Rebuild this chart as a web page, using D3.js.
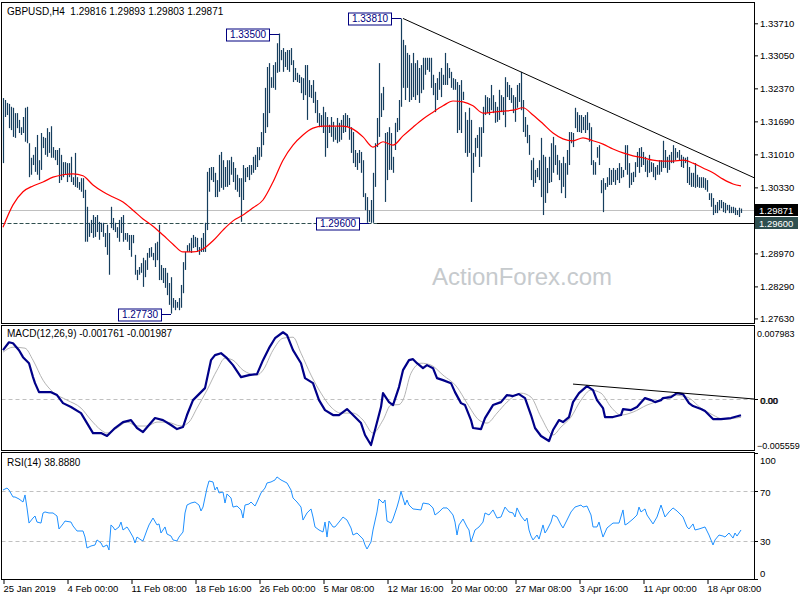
<!DOCTYPE html>
<html><head><meta charset="utf-8">
<script src="https://cdn.jsdelivr.net/npm/d3@7"></script>
<style>
html,body{margin:0;padding:0;background:#fff;}
svg{display:block;font-family:"Liberation Sans",Arial,sans-serif;}
</style></head><body>
<svg id="c" width="800" height="600"></svg>
<script>
// ---------------- DATA ----------------
const symbolTitle = "GBPUSD,H4  1.29816 1.29893 1.29803 1.29871";
const macdTitle = "MACD(12,26,9) -0.001761 -0.001987";
const rsiTitle = "RSI(14) 38.8880";
const watermark = "ActionForex.com";

const highs = [
1.3217,1.3213,1.3207,1.3205,1.3199,1.3197,1.3186,1.3186,1.3172,1.3157,
1.3178,1.3197,1.3199,1.3124,1.3094,1.3100,1.3116,1.3141,1.3089,1.3145,
1.3137,1.3135,1.3155,1.3147,1.3159,1.3116,1.3110,1.3110,1.3114,1.3100,
1.3085,1.3085,1.3083,1.3083,1.3096,1.3054,1.3104,1.3054,1.3044,1.3052,
1.3052,1.3028,1.2993,1.2960,1.2966,1.2976,1.2972,1.2976,1.2962,1.2960,
1.2960,1.2939,1.2956,1.2939,1.2993,1.2970,1.2960,1.2951,1.2966,1.2972,
1.2976,1.2939,1.2939,1.2935,1.2935,1.2935,1.2894,1.2863,1.2869,1.2877,
1.2888,1.2883,1.2898,1.2908,1.2910,1.2898,1.2918,1.2921,1.2956,1.2873,
1.2867,1.2867,1.2857,1.2836,1.2848,1.2805,1.2801,1.2797,1.2805,1.2832,
1.2879,1.2900,1.2914,1.2918,1.2929,1.2935,1.2931,1.2929,1.2910,1.2929,
1.2939,1.2960,1.3065,1.3073,1.3075,1.3075,1.3063,1.3048,1.3100,1.3106,
1.3089,1.3075,1.3089,1.3089,1.3096,1.3085,1.3073,1.3059,1.3052,1.3052,
1.3079,1.3073,1.3075,1.3079,1.3079,1.3096,1.3100,1.3116,1.3116,1.3147,
1.3186,1.3238,1.3281,1.3289,1.3260,1.3285,1.3291,1.3330,1.3350,1.3316,
1.3320,1.3312,1.3316,1.3316,1.3320,1.3295,1.3279,1.3269,1.3265,1.3260,
1.3258,1.3285,1.3285,1.3254,1.3244,1.3254,1.3230,1.3213,1.3186,1.3182,
1.3199,1.3188,1.3178,1.3162,1.3178,1.3168,1.3157,1.3176,1.3166,1.3172,
1.3182,1.3186,1.3182,1.3176,1.3157,1.3147,1.3110,1.3104,1.3110,1.3106,
1.3089,1.3021,1.3013,1.2986,1.3007,1.3063,1.3124,1.3176,1.3289,1.3227,
1.3240,1.3145,1.3147,1.3157,1.3145,1.3096,1.3166,1.3176,1.3213,1.3381,
1.3337,1.3326,1.3310,1.3306,1.3289,1.3310,1.3289,1.3295,1.3279,1.3285,
1.3300,1.3300,1.3300,1.3300,1.3300,1.3265,1.3248,1.3258,1.3271,1.3279,
1.3265,1.3310,1.3289,1.3279,1.3271,1.3258,1.3256,1.3250,1.3244,1.3254,
1.3230,1.3188,1.3172,1.3197,1.3172,1.3104,1.3135,1.3141,1.3157,1.3157,
1.3199,1.3223,1.3219,1.3217,1.3244,1.3223,1.3209,1.3199,1.3234,1.3223,
1.3219,1.3260,1.3250,1.3244,1.3238,1.3223,1.3219,1.3244,1.3248,1.3271,
1.3213,1.3178,1.3162,1.3141,1.3089,1.3094,1.3069,1.3073,1.3089,1.3135,
1.3100,1.3096,1.3073,1.3096,1.3124,1.3137,1.3120,1.3100,1.3089,1.3083,
1.3096,1.3083,1.3110,1.3147,1.3147,1.3145,1.3197,1.3188,1.3182,1.3182,
1.3178,1.3182,1.3188,1.3166,1.3157,1.3089,1.3085,1.3116,1.3120,1.3048,
1.3052,1.3042,1.3054,1.3073,1.3069,1.3073,1.3069,1.3073,1.3083,1.3075,
1.3069,1.3120,1.3120,1.3083,1.3063,1.3065,1.3085,1.3106,1.3114,1.3116,
1.3106,1.3096,1.3089,1.3100,1.3085,1.3083,1.3075,1.3079,1.3089,1.3089,
1.3129,1.3110,1.3096,1.3100,1.3106,1.3120,1.3114,1.3106,1.3110,1.3100,
1.3096,1.3094,1.3096,1.3075,1.3063,1.3063,1.3083,1.3059,1.3054,1.3054,
1.3054,1.3052,1.3048,1.3021,1.3021,1.3011,1.2997,1.3003,1.3007,1.3007,
1.3003,1.3001,1.2997,1.2997,1.2993,1.2993,1.2991,1.2986,1.2991,1.29893];

const lows = [
1.3083,1.3178,1.3182,1.3155,1.3151,1.3137,1.3135,1.3155,1.3145,1.3141,
1.3145,1.3127,1.3124,1.3054,1.3059,1.3079,1.3065,1.3059,1.3048,1.3069,
1.3114,1.3100,1.3096,1.3104,1.3094,1.3094,1.3089,1.3079,1.3042,1.3048,
1.3054,1.3059,1.3044,1.3054,1.3044,1.3038,1.3034,1.3032,1.3028,1.3024,
1.3011,1.2921,1.2921,1.2931,1.2939,1.2929,1.2931,1.2941,1.2925,1.2941,
1.2931,1.2910,1.2894,1.2853,1.2949,1.2945,1.2941,1.2929,1.2921,1.2939,
1.2921,1.2925,1.2921,1.2904,1.2890,1.2918,1.2853,1.2842,1.2853,1.2857,
1.2828,1.2848,1.2863,1.2888,1.2890,1.2883,1.2869,1.2883,1.2842,1.2842,
1.2836,1.2826,1.2811,1.2791,1.2773,1.2785,1.2780,1.2785,1.2780,1.2785,
1.2815,1.2863,1.2900,1.2900,1.2898,1.2908,1.2910,1.2900,1.2894,1.2900,
1.2900,1.2900,1.2945,1.3024,1.3048,1.3044,1.3013,1.3013,1.3024,1.3032,
1.3028,1.3034,1.3034,1.3038,1.3059,1.3044,1.3028,1.3024,1.3013,1.2962,
1.3007,1.3044,1.3054,1.3048,1.3059,1.3063,1.3069,1.3075,1.3089,1.3096,
1.3120,1.3145,1.3157,1.3186,1.3238,1.3238,1.3234,1.3269,1.3271,1.3295,
1.3271,1.3281,1.3275,1.3271,1.3285,1.3250,1.3254,1.3250,1.3248,1.3227,
1.3213,1.3223,1.3172,1.3219,1.3217,1.3207,1.3186,1.3166,1.3157,1.3157,
1.3145,1.3096,1.3114,1.3145,1.3137,1.3127,1.3131,1.3124,1.3127,1.3131,
1.3145,1.3147,1.3157,1.3131,1.3104,1.3083,1.3075,1.3069,1.3083,1.3063,
1.3013,1.2986,1.2960,1.2962,1.2960,1.2960,1.3034,1.3116,1.3137,1.3178,
1.3192,1.3003,1.3048,1.3069,1.3069,1.3063,1.3110,1.3147,1.3151,1.3199,
1.3238,1.3213,1.3238,1.3209,1.3213,1.3219,1.3213,1.3223,1.3207,1.3227,
1.3234,1.3265,1.3275,1.3271,1.3238,1.3223,1.3188,1.3213,1.3234,1.3219,
1.3244,1.3244,1.3244,1.3258,1.3238,1.3234,1.3234,1.3145,1.3151,1.3145,
1.3213,1.3104,1.3096,1.3104,1.3003,1.3063,1.3096,1.3114,1.3075,1.3096,
1.3145,1.3182,1.3186,1.3182,1.3192,1.3186,1.3166,1.3168,1.3172,1.3188,
1.3182,1.3157,1.3219,1.3213,1.3207,1.3186,1.3168,1.3197,1.3209,1.3192,
1.3147,1.3137,1.3124,1.3100,1.3048,1.3034,1.3042,1.3054,1.3048,1.3013,
1.2976,1.3001,1.3021,1.3042,1.3044,1.3063,1.3079,1.3059,1.3048,1.3021,
1.3034,1.3011,1.3059,1.3079,1.3124,1.3116,1.3155,1.3147,1.3147,1.3145,
1.3151,1.3145,1.3151,1.3127,1.3079,1.3059,1.3059,1.3094,1.3079,1.3021,
1.2982,1.3028,1.3034,1.3038,1.3038,1.3044,1.3038,1.3048,1.3042,1.3052,
1.3054,1.3069,1.3059,1.3032,1.3038,1.3044,1.3054,1.3075,1.3063,1.3075,
1.3079,1.3065,1.3054,1.3063,1.3065,1.3054,1.3048,1.3059,1.3059,1.3065,
1.3073,1.3073,1.3063,1.3069,1.3083,1.3083,1.3089,1.3094,1.3089,1.3075,
1.3073,1.3083,1.3042,1.3038,1.3034,1.3034,1.3032,1.3034,1.3032,1.3032,
1.3032,1.3028,1.3024,1.3007,1.2993,1.2976,1.2980,1.2980,1.2986,1.2990,
1.2982,1.2980,1.2986,1.2980,1.2980,1.2980,1.2976,1.2976,1.2972,1.29803];

// moving average: [bar, price]
const maPts = [[0,1.2951],[5,1.2997],[10,1.3024],[15,1.3036],[20,1.3044],[25,1.3054],[30,1.3059],[35,1.3061],[40,1.3057],[45,1.3038],
[50,1.3024],[55,1.3013],[60,1.3003],[65,1.2986],[70,1.2968],[75,1.2953],[80,1.2935],[85,1.2916],[90,1.2900],[95,1.2900],
[100,1.2906],[105,1.2923],[110,1.2945],[115,1.2964],[120,1.2976],[125,1.2991],[130,1.3007],[135,1.3044],[140,1.3089],[145,1.3120],
[150,1.3141],[155,1.3155],[160,1.3159],[165,1.3159],[170,1.3159],[175,1.3153],[180,1.3137],[185,1.3116],[190,1.3127],[195,1.3120],
[200,1.3139],[205,1.3157],[210,1.3174],[215,1.3188],[220,1.3201],[225,1.3211],[230,1.3209],[235,1.3201],[240,1.3186],[245,1.3188],
[250,1.3190],[255,1.3192],[260,1.3197],[265,1.3182],[270,1.3164],[275,1.3145],[280,1.3133],[285,1.3129],[290,1.3135],[295,1.3129],
[300,1.3122],[305,1.3112],[310,1.3104],[315,1.3098],[320,1.3094],[325,1.3089],[330,1.3087],[335,1.3087],[340,1.3089],[345,1.3083],
[350,1.3073],[355,1.3063],[360,1.3050],[365,1.3040],[369,1.3036]];

// MACD main: [bar, value]
const macdPts = [[0,0.00534],[3,0.00621],[5,0.00610],[8,0.00534],[10,0.00458],[13,0.00392],[15,0.00240],[16,0.00174],[18,0.00076],[24,0.00076],
[27,0.00044],[30,-0.00044],[34,-0.00087],[39,-0.00153],[42,-0.00262],[45,-0.00371],[49,-0.00371],[52,-0.00403],[56,-0.00316],[60,-0.00251],
[64,-0.00229],[67,-0.00316],[70,-0.00360],[73,-0.00283],[76,-0.00207],[80,-0.00229],[84,-0.00283],[87,-0.00327],[90,-0.00305],[92,-0.00174],
[95,-0.00011],[99,0.00076],[101,0.00120],[104,0.00425],[106,0.00480],[109,0.00501],[112,0.00447],[115,0.00371],[119,0.00240],[123,0.00262],
[127,0.00273],[130,0.00425],[133,0.00556],[136,0.00665],[140,0.00730],[142,0.00698],[145,0.00534],[149,0.00392],[151,0.00229],[155,0.00174],
[158,-0.00011],[161,-0.00120],[165,-0.00174],[168,-0.00174],[172,-0.00109],[175,-0.00174],[179,-0.00262],[181,-0.00392],[184,-0.00501],[186,-0.00338],
[189,-0.00087],[190,0.00065],[193,-0.00033],[195,-0.00065],[198,0.00131],[200,0.00316],[203,0.00425],[205,0.00436],[207,0.00392],[210,0.00338],
[212,0.00371],[215,0.00338],[217,0.00229],[220,0.00207],[224,0.00174],[226,0.00076],[229,-0.00044],[231,-0.00065],[234,-0.00229],[235,-0.00316],
[239,-0.00327],[241,-0.00207],[245,-0.00065],[249,-0.00033],[252,0.00044],[255,0.00033],[258,0.00055],[261,0.00011],[264,-0.00174],[266,-0.00316],
[269,-0.00403],[273,-0.00458],[275,-0.00338],[278,-0.00229],[280,-0.00251],[283,-0.00196],[285,-0.00033],[288,0.00065],[292,0.00142],[295,0.00098],
[297,-0.00011],[300,-0.00098],[301,-0.00196],[305,-0.00196],[309,-0.00174],[310,-0.00109],[314,-0.00120],[317,-0.00087],[321,0.00011],[324,-0.00011],
[326,-0.00033],[329,-0.00011],[330,0.00011],[334,0.00022],[337,0.00065],[340,0.00055],[343,-0.00044],[345,-0.00076],[349,-0.00109],[351,-0.00131],
[355,-0.00218],[359,-0.00218],[364,-0.00207],[369,-0.00176]];

// MACD signal: [bar, value]
const signalPts = [[0,0.00512],[5,0.00567],[11,0.00556],[15,0.00425],[20,0.00207],[25,0.00076],[32,-0.00011],[39,-0.00098],[44,-0.00229],[49,-0.00338],
[52,-0.00371],[57,-0.00316],[62,-0.00251],[67,-0.00294],[72,-0.00294],[77,-0.00251],[82,-0.00251],[89,-0.00294],[93,-0.00251],[97,-0.00098],
[102,0.00098],[107,0.00316],[111,0.00447],[115,0.00425],[120,0.00316],[127,0.00262],[130,0.00316],[135,0.00534],[140,0.00665],[145,0.00676],
[149,0.00501],[154,0.00262],[159,0.00065],[164,-0.00087],[169,-0.00153],[175,-0.00153],[180,-0.00229],[185,-0.00371],[190,-0.00229],[194,-0.00065],
[198,-0.00060],[200,-0.00010],[204,0.00283],[209,0.00392],[214,0.00371],[220,0.00262],[227,0.00131],[232,-0.00044],[238,-0.00229],[242,-0.00262],
[247,-0.00153],[252,-0.00033],[259,0.00065],[264,0.00022],[269,-0.00196],[275,-0.00392],[279,-0.00305],[284,-0.00196],[289,-0.00011],[294,0.00098],
[299,0.00065],[304,-0.00087],[309,-0.00174],[315,-0.00142],[322,-0.00065],[329,-0.00011],[335,0.00044],[342,0.00022],[349,-0.00098],[355,-0.00174],
[360,-0.00218],[369,-0.00199]];

// RSI(14): [bar, value]
const rsiPts = [[0,70.6],[2,72.2],[3,70.6],[5,65.1],[6,65.1],[8,63.5],[10,61.1],[11,66.7],[12,56.4],[13,44.4],
[15,48.4],[16,50.0],[17,45.2],[19,44.4],[20,52.4],[21,53.2],[23,52.4],[25,52.4],[27,50.0],[28,39.7],
[30,43.7],[31,46.0],[34,45.2],[35,42.1],[37,38.1],[40,38.1],[41,33.3],[42,24.6],[44,26.2],[46,27.0],
[47,31.0],[49,28.6],[50,25.4],[52,27.0],[53,23.0],[54,42.9],[55,41.3],[56,38.9],[58,41.3],[59,45.2],
[60,38.9],[62,41.3],[63,38.9],[65,33.3],[66,28.6],[67,33.3],[69,31.0],[70,30.2],[72,38.9],[73,42.9],
[75,48.4],[77,42.9],[78,43.7],[79,36.5],[81,41.3],[82,35.7],[84,34.1],[85,31.0],[87,30.2],[88,33.3],
[90,37.3],[91,52.4],[92,58.7],[94,60.3],[96,61.1],[98,58.7],[99,54.0],[100,57.1],[102,72.2],[103,77.8],
[105,77.0],[106,70.6],[107,73.0],[108,68.3],[110,69.0],[111,60.3],[112,67.5],[114,64.3],[115,57.1],[117,57.9],
[119,54.8],[120,48.4],[121,58.7],[123,59.5],[124,61.1],[126,57.9],[127,61.1],[129,68.3],[131,72.2],[132,76.2],
[134,77.0],[136,78.6],[137,81.0],[139,78.6],[140,77.8],[142,76.2],[144,70.6],[145,64.3],[147,61.1],[149,57.1],
[150,46.8],[152,52.4],[154,55.6],[155,49.2],[156,41.3],[158,38.9],[160,37.3],[161,45.2],[162,33.3],[163,46.0],
[165,41.3],[166,41.3],[168,45.2],[170,49.2],[172,46.8],[174,40.5],[175,34.9],[177,36.5],[178,34.9],[180,31.7],
[181,27.0],[182,23.8],[184,29.4],[185,38.9],[187,53.2],[188,63.5],[190,60.3],[191,62.7],[192,46.0],[194,44.4],
[195,47.6],[197,57.1],[198,62.7],[199,69.5],[201,58.7],[202,62.7],[203,58.7],[205,55.6],[209,54.8],[210,60.3],
[213,59.5],[215,56.4],[216,50.8],[218,53.2],[220,56.4],[222,56.4],[223,54.8],[225,50.8],[226,45.2],[227,34.9],
[228,42.9],[230,47.6],[232,41.3],[233,38.9],[234,29.4],[236,38.9],[238,41.3],[240,45.2],[241,52.4],[243,50.8],
[245,54.8],[247,48.4],[249,49.2],[251,57.1],[253,53.2],[255,52.4],[256,49.2],[257,56.4],[259,50.0],[261,46.0],
[262,48.4],[263,38.9],[264,34.1],[265,31.0],[267,34.9],[268,31.7],[270,42.9],[271,36.5],[272,38.9],[274,45.2],
[275,50.8],[277,49.2],[279,42.9],[280,40.5],[282,46.8],[284,53.2],[286,57.1],[289,58.7],[290,57.1],[292,57.9],
[294,50.8],[295,41.3],[297,41.3],[298,45.2],[299,38.9],[300,33.3],[302,40.5],[305,44.4],[308,44.4],[310,54.8],
[311,42.9],[312,43.7],[315,47.6],[317,50.8],[318,57.1],[319,53.2],[321,55.6],[322,50.8],[325,43.7],[327,49.2],
[329,58.7],[331,49.2],[333,53.2],[335,56.4],[337,54.0],[340,49.2],[342,41.3],[343,39.7],[345,43.7],[346,38.9],
[348,39.7],[351,41.3],[353,34.9],[355,27.0],[356,31.0],[358,34.9],[360,34.1],[361,33.3],[363,36.5],[365,32.5],
[366,36.5],[367,34.1],[369,38.89]];

const priceTicks = [1.33710,1.33050,1.32370,1.31690,1.31010,1.30330,1.28970,1.28290,1.27630];
const macdTicks = [0.007983, 0.0, -0.005559];
const rsiTicks = [100, 70, 30, 0];
const rsiLevels = [70, 30];
const timeTickBars = [0,32,64,96,128,160,192,224,256,288,320,352];
const timeTickLabels = ["25 Jan 2019","4 Feb 00:00","11 Feb 08:00","18 Feb 16:00","26 Feb 00:00","5 Mar 08:00",
  "12 Mar 16:00","20 Mar 00:00","27 Mar 08:00","3 Apr 16:00","11 Apr 00:00","18 Apr 08:00"];

const lastPrice = 1.29871;
const supportLevel = 1.29600;
const supportStartBar = 187;
const trendA = [200, 1.3381], trendB = [330, 1.3138];
const macdTrendA = [285, 0.00164], macdTrendB = [340, 0.00065];
const annotations = [
  {bar:138, price:1.33500, text:"1.33500"},
  {bar:199, price:1.33810, text:"1.33810"},
  {bar:183, price:1.29600, text:"1.29600"},
  {bar:84,  price:1.27730, text:"1.27730"}];

// ---------------- LAYOUT ----------------
const svg = d3.select("#c");
const L = 1.5, R = 754.5;
const P = {main:[2.5,323.5], macd:[325.5,450.5], rsi:[452.5,579.5]};
const x = d3.scaleLinear().domain([-1, 375.5]).range([1, 754]);
const yM = d3.scaleLinear().domain([1.27536, 1.34149]).range([323, 2]);
const yD = d3.scaleLinear().domain([-0.005559, 0.007983]).range([450, 326]);
const yR = d3.scaleLinear().domain([0, 100]).range([579, 453]);
const endBar = x.invert(754);
const fsT = 10;   // titles / boxes
const fsA = 9;    // axis labels
const FF = "Liberation Sans, Arial, sans-serif";

svg.append("rect").attr("width",800).attr("height",600).attr("fill","#fff");

// watermark
svg.append("text").attr("x",522).attr("y",285).attr("text-anchor","middle")
  .attr("font-size",24).attr("fill","#c6cacd").text(watermark);

// main panel lines
const g = svg.append("g");
g.append("line").attr("x1",L).attr("x2",R).attr("y1",Math.round(yM(lastPrice))+0.5).attr("y2",Math.round(yM(lastPrice))+0.5)
  .attr("stroke","#c0c0c0").attr("stroke-width",1);
const ys = Math.round(yM(supportLevel))+0.5;
g.append("line").attr("x1",L).attr("x2",R).attr("y1",ys).attr("y2",ys)
  .attr("stroke","#2f4f4f").attr("stroke-width",1).attr("stroke-dasharray","4,2");
g.append("line").attr("x1",x(supportStartBar)).attr("x2",R).attr("y1",ys).attr("y2",ys)
  .attr("stroke","#000").attr("stroke-width",1);

// bars
g.selectAll("line.bar").data(highs).join("line").attr("class","bar")
  .attr("x1",(d,i)=>x(i)+0.5).attr("x2",(d,i)=>x(i)+0.5)
  .attr("y1",d=>yM(d)).attr("y2",(d,i)=>yM(lows[i]))
  .attr("stroke","#163e5e").attr("stroke-width",1.2);

// moving average
g.append("path").datum(maPts)
  .attr("d", d3.line().x(d=>x(d[0])).y(d=>yM(d[1])).curve(d3.curveMonotoneX))
  .attr("fill","none").attr("stroke","#ff0000").attr("stroke-width",1.2);

// triangle trendline
const tSlope = (trendB[1]-trendA[1])/(trendB[0]-trendA[0]);
g.append("line").attr("x1",x(trendA[0])).attr("y1",yM(trendA[1]))
  .attr("x2",x(endBar)).attr("y2",yM(trendA[1]+tSlope*(endBar-trendA[0])))
  .attr("stroke","#000").attr("stroke-width",1);

// annotations
annotations.forEach(a=>{
  const bx = x(a.bar), by = Math.round(yM(a.price))+0.5;
  const right = bx - 10, w = 43, h = 12;
  g.append("line").attr("x1",right).attr("x2",bx).attr("y1",by).attr("y2",by).attr("stroke","#000080");
  g.append("rect").attr("x",Math.round(right-w)+0.5).attr("y",Math.round(by-h/2)).attr("width",w).attr("height",h)
    .attr("fill","#fff").attr("stroke","#000080").attr("stroke-width",1);
  g.append("text").attr("x",right-w/2+0.5).attr("y",by+3.5).attr("text-anchor","middle")
    .attr("font-size",fsT).attr("fill","#000080").text(a.text);
});

// ---------- MACD ----------
svg.append("line").attr("x1",L).attr("x2",R).attr("y1",Math.round(yD(0))+0.5).attr("y2",Math.round(yD(0))+0.5)
  .attr("stroke","#c0c0c0").attr("stroke-dasharray","4,3");
svg.append("path").datum(signalPts)
  .attr("d", d3.line().x(d=>x(d[0])).y(d=>yD(d[1])).curve(d3.curveMonotoneX))
  .attr("fill","none").attr("stroke","#b4b4b4").attr("stroke-width",1);
svg.append("path").datum(macdPts)
  .attr("d", d3.line().x(d=>x(d[0])).y(d=>yD(d[1])))
  .attr("fill","none").attr("stroke","#000088").attr("stroke-width",2.2).attr("stroke-linejoin","round");
const mSlope = (macdTrendB[1]-macdTrendA[1])/(macdTrendB[0]-macdTrendA[0]);
svg.append("line").attr("x1",x(macdTrendA[0])).attr("y1",yD(macdTrendA[1]))
  .attr("x2",x(endBar)).attr("y2",yD(macdTrendA[1]+mSlope*(endBar-macdTrendA[0])))
  .attr("stroke","#000").attr("stroke-width",1);

// ---------- RSI ----------
rsiLevels.forEach(v=>{
  svg.append("line").attr("x1",L).attr("x2",R).attr("y1",Math.round(yR(v))+0.5).attr("y2",Math.round(yR(v))+0.5)
    .attr("stroke","#c0c0c0").attr("stroke-dasharray","4,3");
});
svg.append("path").datum(rsiPts)
  .attr("d", d3.line().x(d=>x(d[0])).y(d=>yR(d[1])))
  .attr("fill","none").attr("stroke","#1e90ff").attr("stroke-width",1);

// ---------- panel frames ----------
Object.values(P).forEach(([t,b])=>{
  svg.append("rect").attr("x",L).attr("y",t).attr("width",R-L).attr("height",b-t)
    .attr("fill","none").attr("stroke","#000").attr("stroke-width",1);
});

// titles
svg.append("text").attr("x",7).attr("y",15).attr("font-size",fsT).attr("style","white-space:pre").attr("fill","#000").text(symbolTitle);
svg.append("text").attr("x",7).attr("y",337).attr("font-size",fsT).attr("fill","#000").text(macdTitle);
svg.append("text").attr("x",7).attr("y",466).attr("font-size",fsT).attr("fill","#000").text(rsiTitle);

// ---------- axes ----------
const ax = svg.append("g").attr("transform","translate(754,0)")
  .call(d3.axisRight(yM).tickValues(priceTicks).tickSize(4).tickPadding(2).tickFormat(d3.format(".5f")));
ax.select(".domain").remove();
ax.selectAll("text").attr("font-size",fsA+0.5).attr("font-family",FF).attr("fill","#000");

// price labels on the axis
[[lastPrice,"#000000","1.29871"],[supportLevel,"#2f4f4f","1.29600"]].forEach(([p,c,t])=>{
  const yy = Math.round(yM(p));
  svg.append("rect").attr("x",755).attr("y",yy-6).attr("width",43).attr("height",12).attr("fill",c);
  svg.append("text").attr("x",759).attr("y",yy+4).attr("font-size",fsA+0.5).attr("fill","#fff").text(t);
});

// MACD axis labels
const macdLabelY = [333, 400, 445];
macdTicks.forEach((v,i)=>{
  svg.append("text").attr("x",v===0 ? 760 : 757).attr("y",macdLabelY[i]+3.5).attr("font-size",fsA).attr("fill","#000")
    .text(v===0 ? "0.00" : d3.format(".6f")(v));
});
svg.append("text").attr("x",760.8).attr("y",403.5).attr("font-size",fsA).attr("fill","#000").text("0.00");
svg.append("line").attr("x1",754).attr("x2",758).attr("y1",Math.round(yD(0))+0.5).attr("y2",Math.round(yD(0))+0.5).attr("stroke","#000");

// RSI axis labels
const rsiLabelY = [460.5, 492.5, 541.5, 573];
rsiTicks.forEach((v,i)=>{
  svg.append("text").attr("x",760).attr("y",rsiLabelY[i]+3.5).attr("font-size",fsA+0.5).attr("fill","#000").text(v);
  svg.append("line").attr("x1",754).attr("x2",758).attr("y1",Math.round(yR(v))+0.5).attr("y2",Math.round(yR(v))+0.5).attr("stroke","#000");
});

// time axis
const tx = svg.append("g").attr("transform","translate(0,579)")
  .call(d3.axisBottom(x).tickValues(timeTickBars).tickSize(5).tickPadding(1).tickFormat((d,i)=>timeTickLabels[i]));
tx.select(".domain").remove();
tx.selectAll(".tick line").attr("transform","translate(0.5,0)");
tx.selectAll("text").attr("text-anchor","start").attr("x",0).attr("font-size",fsA+0.5)
  .attr("font-family",FF).attr("fill","#000");
</script>
</body></html>
